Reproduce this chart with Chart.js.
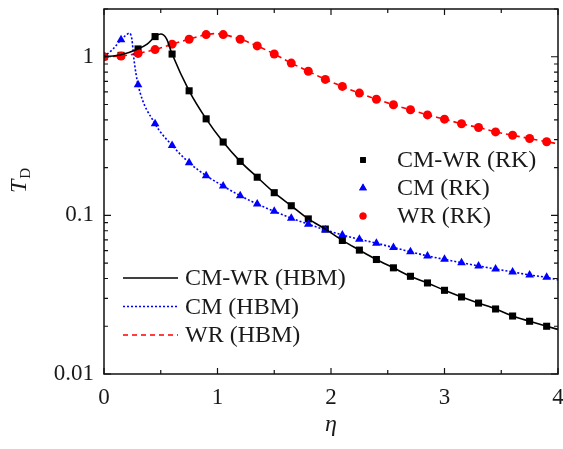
<!DOCTYPE html>
<html>
<head>
<meta charset="utf-8">
<script src="https://cdn.jsdelivr.net/npm/chart.js@4.4.0/dist/chart.umd.min.js"></script>
<style>
  html, body { margin: 0; padding: 0; background: #fff; }
  #wrap { width: 563px; height: 449px; }
</style>
</head>
<body>
<div id="wrap"><canvas id="myChart"></canvas></div>
<script>
// RK sample points (shared eta grid)
const etaRK = [0, 0.15, 0.3, 0.45, 0.6, 0.75, 0.9, 1.05, 1.2, 1.35, 1.5, 1.65, 1.8, 1.95,
  2.1, 2.25, 2.4, 2.55, 2.7, 2.85, 3.0, 3.15, 3.3, 3.45, 3.6, 3.75, 3.9];
const cmwrRK = [1.0, 1.02, 1.12, 1.34, 1.04, 0.61, 0.406, 0.29, 0.219, 0.174, 0.139, 0.115, 0.095, 0.082,
  0.0695, 0.0604, 0.0527, 0.0467, 0.0413, 0.0375, 0.0337, 0.0306, 0.028, 0.0257, 0.0232, 0.0215, 0.02];
const cmRK = [1.0, 1.28, 0.666, 0.378, 0.276, 0.215, 0.178, 0.153, 0.133, 0.118, 0.106, 0.096, 0.088, 0.081,
  0.0753, 0.0707, 0.0668, 0.0627, 0.059, 0.0555, 0.0528, 0.0503, 0.048, 0.0459, 0.044, 0.0421, 0.0407];
const wrRK = [1.0, 1.01, 1.05, 1.11, 1.2, 1.29, 1.38, 1.38, 1.29, 1.17, 1.04, 0.912, 0.81, 0.72,
  0.65, 0.59, 0.54, 0.498, 0.463, 0.43, 0.404, 0.378, 0.358, 0.336, 0.32, 0.305, 0.291];

// HBM curves
const etaCmwrHbm = [0, 0.15, 0.3, 0.38, 0.45, 0.5, 0.55, 0.6, 0.75, 0.9, 1.05, 1.2, 1.35, 1.5, 1.65, 1.8, 1.95,
  2.1, 2.25, 2.4, 2.55, 2.7, 2.85, 3.0, 3.15, 3.3, 3.45, 3.6, 3.75, 3.9, 4.0];
const cmwrHbm = [1.0, 1.03, 1.12, 1.2, 1.34, 1.39, 1.3, 1.04, 0.61, 0.406, 0.29, 0.219, 0.174, 0.139, 0.115, 0.095, 0.082,
  0.0695, 0.0604, 0.0527, 0.0467, 0.0413, 0.0375, 0.0337, 0.0306, 0.028, 0.0257, 0.0232, 0.0215, 0.02, 0.0191];
const etaCmHbm = [0, 0.08, 0.15, 0.2, 0.225, 0.245, 0.265, 0.3, 0.45, 0.6, 0.75, 0.9, 1.05, 1.2, 1.35, 1.5, 1.65, 1.8, 1.95,
  2.1, 2.25, 2.4, 2.55, 2.7, 2.85, 3.0, 3.15, 3.3, 3.45, 3.6, 3.75, 3.9, 4.0];
const cmHbm = [1.0, 1.12, 1.28, 1.38, 1.41, 1.3, 0.95, 0.666, 0.378, 0.276, 0.215, 0.178, 0.153, 0.133, 0.118, 0.106, 0.096, 0.088, 0.081,
  0.0753, 0.0707, 0.0668, 0.0627, 0.059, 0.0555, 0.0528, 0.0503, 0.048, 0.0459, 0.044, 0.0421, 0.0407, 0.0392];
const etaWrHbm = [0, 0.15, 0.3, 0.45, 0.6, 0.75, 0.9, 0.98, 1.05, 1.2, 1.35, 1.5, 1.65, 1.8, 1.95,
  2.1, 2.25, 2.4, 2.55, 2.7, 2.85, 3.0, 3.15, 3.3, 3.45, 3.6, 3.75, 3.9, 4.0];
const wrHbm = [1.0, 1.01, 1.05, 1.11, 1.2, 1.29, 1.38, 1.40, 1.38, 1.29, 1.17, 1.04, 0.912, 0.81, 0.72,
  0.65, 0.59, 0.54, 0.498, 0.463, 0.43, 0.404, 0.378, 0.358, 0.336, 0.32, 0.305, 0.291, 0.283];

const yLabels = [0.01, 0.1, 1];
const xLabels = [0, 1, 2, 3, 4];

const SERIF = '"Liberation Serif", "DejaVu Serif", serif';
const BLACK = '#000000', BLUE = '#0000ff', RED = '#ff0000';

const pts = (xs, ys) => xs.map((v, i) => ({x: v, y: ys[i]}));

// inward ticks on all four sides + frame
const frameTicks = {
  id: 'frameTicks',
  afterDatasetsDraw(chart) {
    const {ctx, chartArea: a, scales: {x, y}} = chart;
    ctx.save();
    ctx.strokeStyle = '#111';
    ctx.lineWidth = 1.5;
    ctx.strokeRect(a.left, a.top, a.right - a.left, a.bottom - a.top);
    ctx.lineWidth = 1.2;
    ctx.beginPath();
    [0, 0.5, 1, 1.5, 2, 2.5, 3, 3.5, 4].forEach(v => {
      const px = x.getPixelForValue(v);
      const len = Number.isInteger(v) ? 6 : 4;
      ctx.moveTo(px, a.bottom); ctx.lineTo(px, a.bottom - len);
      ctx.moveTo(px, a.top); ctx.lineTo(px, a.top + len);
    });
    [0.01, 0.1, 1].forEach(d => {
      for (let k = 1; k <= 9; k++) {
        const v = d * k;
        if (v > 2.001) break;
        const py = y.getPixelForValue(v);
        const len = k === 1 ? 7 : 4;
        ctx.moveTo(a.left, py); ctx.lineTo(a.left + len, py);
        ctx.moveTo(a.right, py); ctx.lineTo(a.right - len, py);
      }
    });
    ctx.stroke();
    ctx.restore();
  }
};

// two legend boxes and the rotated y title
const customLegend = {
  id: 'customLegend',
  afterDraw(chart) {
    const {ctx} = chart;
    ctx.save();
    ctx.fillStyle = '#1a1a1a';
    ctx.font = '24px ' + SERIF;
    ctx.textBaseline = 'middle';
    ctx.textAlign = 'left';

    const rk = [['CM-WR (RK)', 'rect', BLACK, 4], ['CM (RK)', 'triangle', BLUE, 4.5], ['WR (RK)', 'circle', RED, 3.5]];
    rk.forEach((r, i) => {
      const yy = 160 + i * 28;
      ctx.fillStyle = r[2];
      Chart.helpers.drawPoint(ctx, {pointStyle: r[1], radius: r[3], borderWidth: 0}, 363, yy);
      ctx.fill();
      ctx.fillStyle = '#1a1a1a';
      ctx.fillText(r[0], 397, yy + 1);
    });

    const hbm = [['CM-WR (HBM)', BLACK, []], ['CM (HBM)', BLUE, [2, 2]], ['WR (HBM)', RED, [5, 4]]];
    hbm.forEach((r, i) => {
      const yy = 278 + i * 28.5;
      ctx.strokeStyle = r[1];
      ctx.lineWidth = 1.5;
      ctx.setLineDash(r[2]);
      ctx.beginPath();
      ctx.moveTo(123, yy); ctx.lineTo(178, yy);
      ctx.stroke();
      ctx.setLineDash([]);
      ctx.fillText(r[0], 185, yy + 1);
    });

    // y title T_D
    ctx.translate(26, 193);
    ctx.rotate(-Math.PI / 2);
    ctx.textBaseline = 'alphabetic';
    ctx.font = 'italic 24px ' + SERIF;
    ctx.fillText('T', 0, 0);
    const w = ctx.measureText('T').width;
    ctx.font = '15px ' + SERIF;
    ctx.fillText('D', w + 1, 4);
    ctx.restore();
  }
};

new Chart(document.getElementById('myChart').getContext('2d'), {
  type: 'line',
  data: {
    datasets: [{
      label: 'CM-WR (HBM)',
      data: pts(etaCmwrHbm, cmwrHbm),
      borderColor: BLACK,
      borderWidth: 1.6,
      pointRadius: 0,
      cubicInterpolationMode: 'monotone'
    }, {
      label: 'CM (HBM)',
      data: pts(etaCmHbm, cmHbm),
      borderColor: BLUE,
      borderWidth: 1.6,
      borderDash: [2, 2],
      pointRadius: 0,
      cubicInterpolationMode: 'monotone'
    }, {
      label: 'WR (HBM)',
      data: pts(etaWrHbm, wrHbm),
      borderColor: RED,
      borderWidth: 1.6,
      borderDash: [5, 4],
      pointRadius: 0,
      cubicInterpolationMode: 'monotone'
    }, {
      label: 'WR (RK)',
      data: pts(etaRK, wrRK),
      showLine: false,
      pointStyle: 'circle',
      pointRadius: 4.5,
      pointBackgroundColor: RED,
      pointBorderWidth: 0
    }, {
      label: 'CM (RK)',
      data: pts(etaRK, cmRK),
      showLine: false,
      pointStyle: 'triangle',
      pointRadius: 5,
      pointBackgroundColor: BLUE,
      pointBorderWidth: 0
    }, {
      label: 'CM-WR (RK)',
      data: pts(etaRK, cmwrRK),
      showLine: false,
      pointStyle: 'rect',
      pointRadius: 5,
      pointBackgroundColor: BLACK,
      pointBorderWidth: 0
    }]
  },
  options: {
    responsive: true,
    maintainAspectRatio: false,
    animation: false,
    layout: {padding: {left: 0, top: 9, right: 5, bottom: 0}},
    plugins: {legend: {display: false}, tooltip: {enabled: false}},
    scales: {
      x: {
        type: 'linear',
        min: 0,
        max: 4,
        grid: {display: false, drawTicks: false},
        border: {display: false},
        afterFit: s => { s.height = 75; s.paddingLeft = 0; s.paddingRight = 0; },
        afterBuildTicks: s => { s.ticks = xLabels.map(v => ({value: v})); },
        ticks: {
          padding: 10,
          color: '#1a1a1a',
          font: {family: SERIF, size: 23}
        },
        title: {
          display: true,
          text: 'η',
          color: '#1a1a1a',
          font: {family: SERIF, size: 24, style: 'italic'},
          padding: {top: 0, bottom: 10}
        }
      },
      y: {
        type: 'logarithmic',
        min: 0.01,
        max: 2,
        grid: {display: false, drawTicks: false},
        border: {display: false},
        afterFit: s => { s.width = 104; s.paddingTop = 0; s.paddingBottom = 0; },
        afterBuildTicks: s => { s.ticks = yLabels.map(v => ({value: v})); },
        ticks: {
          padding: 10,
          autoSkip: false,
          color: '#1a1a1a',
          font: {family: SERIF, size: 23},
          callback: v => String(v)
        }
      }
    }
  },
  plugins: [frameTicks, customLegend]
});
</script>
</body>
</html>
